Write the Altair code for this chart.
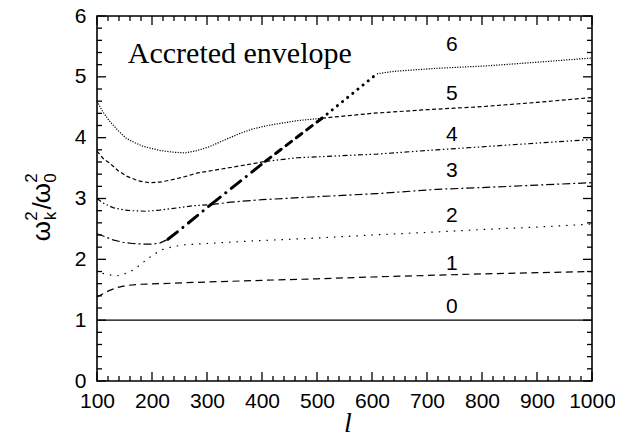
import altair as alt
import pandas as pd

# ---------------- data ----------------
c0_l = [100, 1000]
c0_v = [1.0, 1.0]

c1_l = [100, 112, 123, 138, 153, 180, 214, 274, 382, 500, 600, 718, 800, 900, 1000]
c1_v = [1.38, 1.44, 1.49, 1.54, 1.57, 1.59, 1.60, 1.62, 1.65, 1.68, 1.71, 1.74, 1.76, 1.78, 1.80]

c2_l = [110, 125, 138, 150, 165, 180, 192, 205, 219, 238, 260, 300, 377, 500, 600, 718, 800, 900, 1000]
c2_v = [1.77, 1.74, 1.73, 1.76, 1.82, 1.92, 2.01, 2.09, 2.16, 2.21, 2.24, 2.26, 2.30, 2.35, 2.40, 2.45, 2.49, 2.53, 2.58]

c3a_l = [100, 115, 129, 147, 165, 185, 201, 215, 229]
c3a_v = [2.42, 2.37, 2.32, 2.28, 2.26, 2.25, 2.25, 2.27, 2.33]
c3t_l = [229, 253, 307]
c3t_v = [2.33, 2.50, 2.90]
c3b_l = [307, 343, 400, 500, 609, 717, 800, 900, 1000]
c3b_v = [2.90, 2.94, 2.98, 3.03, 3.08, 3.15, 3.18, 3.22, 3.26]

c4a_l = [100, 110, 129, 150, 165, 190, 214, 250, 274, 307]
c4a_v = [3.00, 2.93, 2.85, 2.81, 2.80, 2.79, 2.81, 2.85, 2.88, 2.90]
c4t_l = [307, 406]
c4t_v = [2.90, 3.61]
c4b_l = [406, 464, 609, 717, 800, 900, 1000]
c4b_v = [3.61, 3.67, 3.73, 3.80, 3.85, 3.91, 3.97]

c5a_l = [100, 112, 123, 138, 153, 175, 195, 215, 232, 260, 283, 310, 343, 382, 406]
c5a_v = [3.78, 3.65, 3.58, 3.46, 3.37, 3.29, 3.26, 3.27, 3.30, 3.36, 3.42, 3.46, 3.51, 3.57, 3.61]
c5t_l = [406, 509]
c5t_v = [3.61, 4.32]
c5b_l = [509, 600, 700, 800, 900, 1000]
c5b_v = [4.32, 4.40, 4.46, 4.51, 4.58, 4.66]

c6a_l = [100, 111, 123, 138, 153, 168, 183, 214, 240, 261, 283, 304, 334, 360, 382, 410, 464, 509]
c6a_v = [4.60, 4.42, 4.27, 4.12, 3.99, 3.92, 3.86, 3.79, 3.76, 3.75, 3.79, 3.85, 3.97, 4.07, 4.14, 4.20, 4.28, 4.32]
c6t_l = [509, 609]
c6t_v = [4.32, 5.05]
c6b_l = [609, 640, 717, 808, 900, 1000]
c6b_v = [5.05, 5.09, 5.14, 5.18, 5.24, 5.31]

mode_labels = ["0", "1", "2", "3", "4", "5", "6"]
mode_label_l = [745] * 7
mode_label_v = [1.21, 1.93, 2.71, 3.45, 4.05, 4.72, 5.53]

x_major = list(range(100, 1001, 100))
x_minor = [v for v in range(100, 1001, 20) if v % 100 != 0]
y_major = [0, 1, 2, 3, 4, 5, 6]
y_minor = [round(i * 0.2, 1) for i in range(31) if i % 5 != 0]

# ---------------- assemble ----------------
segments = {
    "c0": (c0_l, c0_v), "c1": (c1_l, c1_v), "c2": (c2_l, c2_v),
    "c3a": (c3a_l, c3a_v), "c3t": (c3t_l, c3t_v), "c3b": (c3b_l, c3b_v),
    "c4a": (c4a_l, c4a_v), "c4t": (c4t_l, c4t_v), "c4b": (c4b_l, c4b_v),
    "c5a": (c5a_l, c5a_v), "c5t": (c5t_l, c5t_v), "c5b": (c5b_l, c5b_v),
    "c6a": (c6a_l, c6a_v), "c6t": (c6t_l, c6t_v), "c6b": (c6b_l, c6b_v),
}
dashes = {
    "c0": [1, 0], "c1": [7, 4.5], "c2": [1.5, 6],
    "c3a": [8, 3, 2, 3], "c3t": [12, 7, 0.1, 7], "c3b": [8, 3, 2, 3],
    "c4a": [5, 2.5, 1.5, 2.5, 1.5, 2.5], "c4t": [12, 7, 0.1, 7], "c4b": [5, 2.5, 1.5, 2.5, 1.5, 2.5],
    "c5a": [4, 2.5], "c5t": [7, 6], "c5b": [4, 2.5],
    "c6a": [1.2, 1.4], "c6t": [0.1, 6.5], "c6b": [1.2, 1.4],
}
thick = ["c3t", "c4t", "c5t", "c6t"]

rows = []
for name, (ls, vs) in segments.items():
    for i, (l, v) in enumerate(zip(ls, vs)):
        rows.append({"l": l, "v": v, "seg": name, "i": i})
df = pd.DataFrame(rows)

W, H = 495, 365
xs = alt.Scale(domain=[100, 1000], nice=False, zero=False)
ys = alt.Scale(domain=[0, 6], nice=False, zero=False)
dash_scale = alt.Scale(domain=list(dashes.keys()), range=list(dashes.values()))

x_axis = alt.Axis(values=x_major, ticks=False, domain=False, grid=False, format="d",
                  labelFont="Liberation Sans", labelFontSize=21, labelColor="black",
                  labelPadding=9, labelFlush=False, title=None)
y_axis = alt.Axis(values=y_major, ticks=False, domain=False, grid=False, format="d",
                  labelFont="Liberation Sans", labelFontSize=21, labelColor="black",
                  labelPadding=11, labelFlush=False, title=None)


def X(field):
    return alt.X(field, scale=xs, axis=x_axis, title=None)


def Y(field):
    return alt.Y(field, scale=ys, axis=y_axis, title=None)


base = alt.Chart(df)
thin_lines = base.transform_filter(
    alt.FieldOneOfPredicate(field="seg", oneOf=[s for s in segments if s not in thick])
).mark_line(color="black", strokeWidth=1.2, strokeCap="butt").encode(
    x=X("l:Q"), y=Y("v:Q"),
    detail="seg:N",
    order="i:Q",
    strokeDash=alt.StrokeDash("seg:N", scale=dash_scale, legend=None),
)
thick_lines = base.transform_filter(
    alt.FieldOneOfPredicate(field="seg", oneOf=thick)
).mark_line(color="black", strokeWidth=3, strokeCap="round").encode(
    x=X("l:Q"), y=Y("v:Q"),
    detail="seg:N",
    order="i:Q",
    strokeDash=alt.StrokeDash("seg:N", scale=dash_scale, legend=None),
)

lab_df = pd.DataFrame({"l": mode_label_l, "v": mode_label_v, "t": mode_labels})
mode_text = alt.Chart(lab_df).mark_text(
    font="Liberation Sans", fontSize=21, color="black", align="center", baseline="middle"
).encode(x=X("l:Q"), y=Y("v:Q"), text="t:N")

env_df = pd.DataFrame({"l": [156], "v": [5.23], "t": ["Accreted envelope"]})
env_text = alt.Chart(env_df).mark_text(
    font="Liberation Serif", fontSize=30, color="black", align="left", baseline="alphabetic"
).encode(x=X("l:Q"), y=Y("v:Q"), text="t:N")


def ticks(vals, side, length):
    d = pd.DataFrame({"l": vals, "v": vals})
    m = alt.Chart(d).mark_rule(color="black", strokeWidth=1.3)
    if side == "bottom":
        return m.encode(x=X("l:Q"), y=alt.value(H), y2=alt.value(H - length))
    if side == "top":
        return m.encode(x=X("l:Q"), y=alt.value(0), y2=alt.value(length))
    if side == "left":
        return m.encode(y=Y("v:Q"), x=alt.value(0), x2=alt.value(length))
    return m.encode(y=Y("v:Q"), x=alt.value(W), x2=alt.value(W - length))


tick_layers = []
for side in ["bottom", "top"]:
    tick_layers.append(ticks(x_major, side, 9))
    tick_layers.append(ticks(x_minor, side, 5))
for side in ["left", "right"]:
    tick_layers.append(ticks(y_major, side, 9))
    tick_layers.append(ticks(y_minor, side, 5))


def txt(t, x, y, size, font="Liberation Sans", style="normal", angle=0, align="center", baseline="alphabetic"):
    d = pd.DataFrame({"t": [t]})
    return alt.Chart(d).mark_text(font=font, fontSize=size, fontStyle=style, angle=angle,
                                  align=align, baseline=baseline, color="black").encode(
        text="t:N", x=alt.value(x), y=alt.value(y))


xtitle = txt("l", 251, H + 51, 28, font="Liberation Serif", style="italic")
ytitle = [
    txt("ω", -47, 215, 26, angle=270),
    txt("k", -41, 200, 17, angle=270),
    txt("2", -60, 200, 17, angle=270),
    txt("/", -46, 190, 26, angle=270),
    txt("ω", -47, 177, 26, angle=270),
    txt("0", -41, 162, 17, angle=270),
    txt("2", -60, 162, 17, angle=270),
]

chart = alt.layer(
    thin_lines, thick_lines, mode_text, env_text, *tick_layers, xtitle, *ytitle
).properties(
    width=W, height=H,
    autosize=alt.AutoSizeParams(type="none"),
    padding={"left": 89, "top": 8, "right": 23, "bottom": 56},
).configure_view(stroke="black", strokeWidth=1.6)

chart.save("out.html", embed_options={"renderer": "svg", "actions": False})
